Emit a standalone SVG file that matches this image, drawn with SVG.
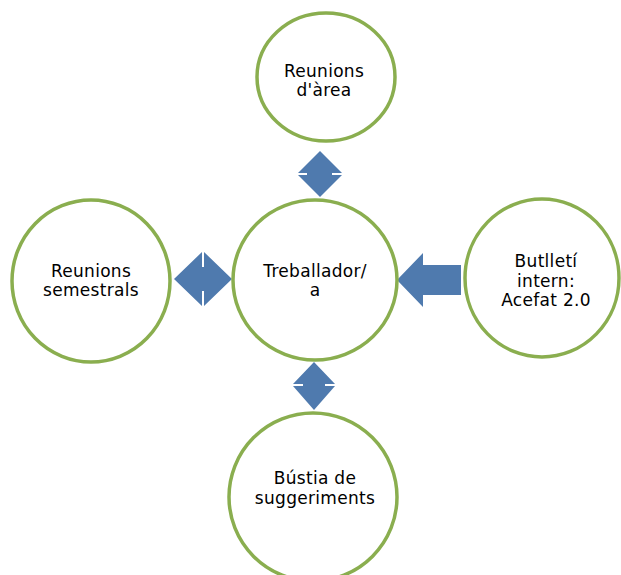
<svg xmlns="http://www.w3.org/2000/svg" width="621" height="575" viewBox="0 0 621 575">
<style>
.node ellipse{fill:#fff;stroke:#8AAE4F;stroke-width:3.5}
.node text{font-family:"DejaVu Sans",Verdana,sans-serif;font-size:17px;fill:#000;text-anchor:middle;letter-spacing:0.3px}
.arrow{fill:#4F7AAE;stroke:none}
</style>
<rect width="621" height="575" fill="#fff"/>
<g id="connectors">
<polygon class="arrow" points="320,151 342,173 332,173 332,175 342,175 320,197 298,175 307,175 307,173 298,173"/>
<polygon class="arrow" points="174,279 202,252 202,267 204,267 204,252 232,279 204,306 204,291 202,291 202,306"/>
<polygon class="arrow" points="397,280 423,253 423,265 461,265 461,295 423,295 423,307"/>
<polygon class="arrow" points="314,362 335,384 325,384 325,386 335,386 314,410 293,386 303,386 303,384 293,384"/>
</g>
<g id="node-top" class="node">
<ellipse cx="326" cy="77" rx="69" ry="64"/>
<text x="324" y="77">Reunions</text>
<text x="324" y="96">d'àrea</text>
</g>
<g id="node-center" class="node">
<ellipse cx="315" cy="280" rx="82" ry="80"/>
<text x="315" y="277">Treballador/</text>
<text x="315" y="296">a</text>
</g>
<g id="node-left" class="node">
<ellipse cx="91" cy="281" rx="79" ry="81"/>
<text x="91" y="277">Reunions</text>
<text x="91" y="296">semestrals</text>
</g>
<g id="node-right" class="node">
<ellipse cx="542" cy="278" rx="77" ry="79"/>
<text x="546" y="267">Butlletí</text>
<text x="546" y="287">intern:</text>
<text x="546" y="306">Acefat 2.0</text>
</g>
<g id="node-bottom" class="node">
<ellipse cx="313" cy="497" rx="84" ry="84"/>
<text x="315" y="484">Bústia de</text>
<text x="315" y="504">suggeriments</text>
</g>
</svg>
